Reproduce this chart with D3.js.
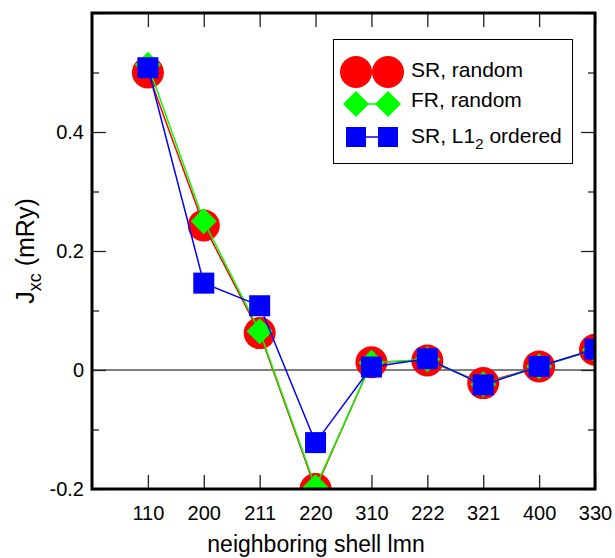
<!DOCTYPE html>
<html>
<head>
<meta charset="utf-8">
<script src="https://cdn.jsdelivr.net/npm/d3@7"></script>
<style>
	body { margin: 0; background: #fff; }
	text { font-family: "Liberation Sans", Arial, sans-serif; }
</style>
</head>
<body>
<div id="chart"></div>
<script>
// neighboring shells on the x axis
let shells = ["110", "200", "211", "220", "310", "222", "321", "400", "330"];

// J_xc values in mRy
let srRandom  = [0.500, 0.243, 0.062, -0.200, 0.013, 0.016, -0.022, 0.006, 0.034];
let frRandom  = [0.513, 0.250, 0.065, -0.197, 0.012, 0.018, -0.024, 0.006, 0.034];
let srOrdered = [0.508, 0.146, 0.108, -0.122, 0.005, 0.019, -0.025, 0.006, 0.035];

let yMajor = [-0.2, 0, 0.2, 0.4, 0.6];
let yMinor = [-0.1, 0.1, 0.3, 0.5];
let yLabels = ["-0.2", "0", "0.2", "0.4", ""];

let width = 615;
let height = 558;
let plotLeft = 92, plotRight = 595, plotTop = 13, plotBottom = 489;

let svg = d3.select("#chart")
	.append("svg")
	.attr("width", width)
	.attr("height", height);

let x = d3.scaleLinear()
	.domain([0, shells.length])
	.range([plotLeft, plotRight]);

let y = d3.scaleLinear()
	.domain([-0.2, 0.6])
	.range([plotBottom, plotTop]);

svg.append("defs").append("clipPath")
	.attr("id", "plotclip")
	.append("rect")
	.attr("x", plotLeft)
	.attr("y", plotTop)
	.attr("width", plotRight - plotLeft)
	.attr("height", plotBottom - plotTop);

// zero line
svg.append("line")
	.attr("x1", plotLeft).attr("x2", plotRight)
	.attr("y1", y(0)).attr("y2", y(0))
	.attr("stroke", "black")
	.attr("stroke-width", 1.2);

// ticks pointing inwards on all four sides
let idx = d3.range(1, shells.length + 1);

function styleAxis(g) {
	g.select(".domain").remove();
	g.selectAll(".tick line").attr("stroke", "#222").attr("stroke-width", 1.3);
	g.selectAll(".tick text")
		.attr("font-size", 20)
		.attr("fill", "black")
		.attr("font-family", "Liberation Sans, Arial, sans-serif");
}

svg.append("g")
	.attr("transform", `translate(0,${plotBottom})`)
	.call(d3.axisBottom(x).tickValues(idx).tickSize(-14).tickPadding(17)
		.tickFormat(i => shells[i - 1]))
	.call(styleAxis);

svg.append("g")
	.attr("transform", `translate(0,${plotTop})`)
	.call(d3.axisTop(x).tickValues(idx).tickSize(-14).tickFormat(""))
	.call(styleAxis);

svg.append("g")
	.attr("transform", `translate(${plotLeft},0)`)
	.call(d3.axisLeft(y).tickValues(yMajor).tickSize(-14).tickPadding(8)
		.tickFormat((d, i) => yLabels[i]))
	.call(styleAxis);

svg.append("g")
	.attr("transform", `translate(${plotLeft},0)`)
	.call(d3.axisLeft(y).tickValues(yMinor).tickSize(-7).tickFormat(""))
	.call(styleAxis);

svg.append("g")
	.attr("transform", `translate(${plotRight},0)`)
	.call(d3.axisRight(y).tickValues(yMajor).tickSize(-14).tickFormat(""))
	.call(styleAxis);

svg.append("g")
	.attr("transform", `translate(${plotRight},0)`)
	.call(d3.axisRight(y).tickValues(yMinor).tickSize(-7).tickFormat(""))
	.call(styleAxis);

// series
let line = d3.line()
	.x((d, i) => x(i + 1))
	.y(d => y(d));

let plot = svg.append("g").attr("clip-path", "url(#plotclip)");

function diamond(h) {
	return `M0,${-h}L${h},0L0,${h}L${-h},0Z`;
}

let series = [
	{values: srRandom, color: "#ff0000", shape: "circle"},
	{values: frRandom, color: "#00ff00", shape: "diamond"},
	{values: srOrdered, color: "#0000ff", shape: "square"}
];

series.forEach(s => {
	plot.append("path")
		.datum(s.values)
		.attr("d", line)
		.attr("fill", "none")
		.attr("stroke", s.color)
		.attr("stroke-width", 1.5);

	let pts = plot.append("g").selectAll("g")
		.data(s.values)
		.join("g")
		.attr("transform", (d, i) => `translate(${x(i + 1)},${y(d)})`);

	if (s.shape == "circle") {
		pts.append("circle").attr("r", 16).attr("fill", s.color);
	} else if (s.shape == "diamond") {
		pts.append("path").attr("d", diamond(13)).attr("fill", s.color);
	} else {
		pts.append("rect")
			.attr("x", -10.5).attr("y", -10.5)
			.attr("width", 21).attr("height", 21)
			.attr("fill", s.color);
	}
});

// frame
svg.append("rect")
	.attr("x", plotLeft).attr("y", plotTop)
	.attr("width", plotRight - plotLeft).attr("height", plotBottom - plotTop)
	.attr("fill", "none")
	.attr("stroke", "black")
	.attr("stroke-width", 3);

// legend
let legend = svg.append("g");
legend.append("rect")
	.attr("x", 333.5).attr("y", 39.5)
	.attr("width", 239).attr("height", 124)
	.attr("fill", "white")
	.attr("stroke", "black")
	.attr("stroke-width", 1);

let rows = [
	{cy: 72, base: 77, color: "#ff0000", shape: "circle", label: "SR, random"},
	{cy: 104, base: 107, color: "#00ff00", shape: "diamond", label: "FR, random"},
	{cy: 137, base: 143, color: "#0000ff", shape: "square", label: "SR, L1"}
];

rows.forEach(r => {
	legend.append("line")
		.attr("x1", 356).attr("x2", 388)
		.attr("y1", r.cy).attr("y2", r.cy)
		.attr("stroke", r.color)
		.attr("stroke-width", 1.5);
	[356, 388].forEach(cx => {
		if (r.shape == "circle") {
			legend.append("circle").attr("cx", cx).attr("cy", r.cy).attr("r", 16).attr("fill", r.color);
		} else if (r.shape == "diamond") {
			legend.append("path").attr("d", diamond(13))
				.attr("transform", `translate(${cx},${r.cy})`)
				.attr("fill", r.color);
		} else {
			legend.append("rect")
				.attr("x", cx - 10).attr("y", r.cy - 10)
				.attr("width", 20).attr("height", 20)
				.attr("fill", r.color);
		}
	});
	let t = legend.append("text")
		.attr("x", 411).attr("y", r.base)
		.attr("font-size", 21)
		.text(r.label);
	if (r.shape == "square") {
		t.append("tspan").attr("dy", 6).attr("font-size", 15).text("2");
		t.append("tspan").attr("dy", -6).text(" ordered");
	}
});

// axis titles
svg.append("text")
	.attr("x", 316)
	.attr("y", 552)
	.attr("text-anchor", "middle")
	.attr("font-size", 23)
	.text("neighboring shell lmn");

let yt = svg.append("text")
	.attr("transform", "translate(34,251) rotate(-90)")
	.attr("text-anchor", "middle")
	.attr("font-size", 25);
yt.append("tspan").text("J");
yt.append("tspan").attr("dy", 7).attr("font-size", 18).text("xc");
yt.append("tspan").attr("dy", -7).text(" (mRy)");
</script>
</body>
</html>
